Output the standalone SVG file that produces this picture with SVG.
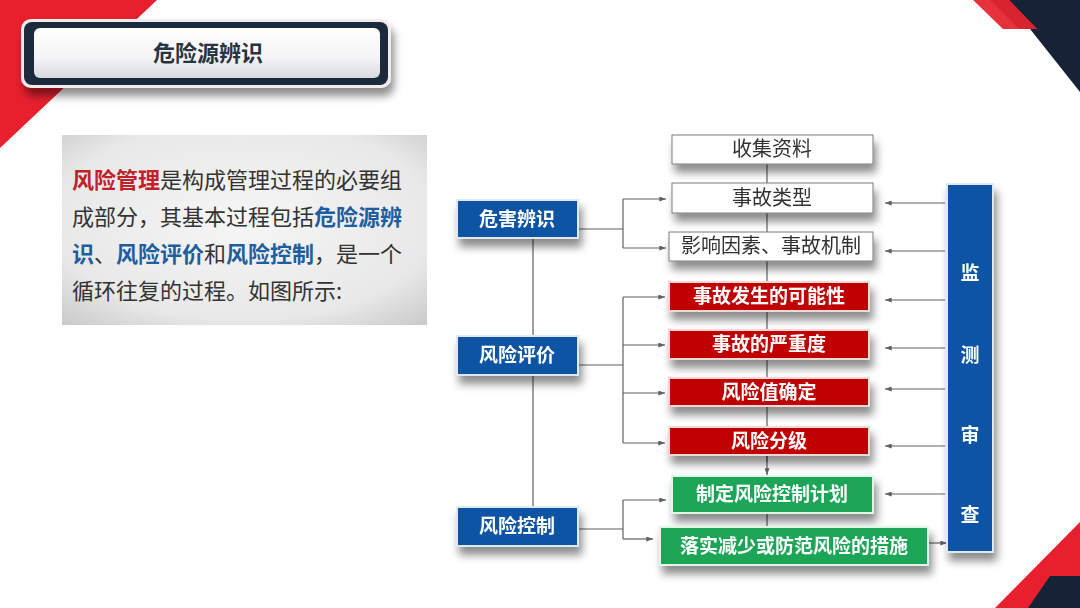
<svg xmlns="http://www.w3.org/2000/svg" width="1080" height="608" viewBox="0 0 1080 608">
<defs>
<style>
.t{font-family:"Noto Sans CJK SC","Liberation Serif",serif;}
.bx{font-family:"Noto Sans CJK SC",sans-serif;font-size:19px;text-anchor:middle;dominant-baseline:central;}
.wb{fill:#ffffff;stroke:#7a7a7a;stroke-width:1;}
.rb{fill:#c00000;stroke:#f3d6d6;stroke-width:2;}
.gb{fill:#1ea556;stroke:#e2f5e9;stroke-width:2;}
.bb{fill:#0b55a4;stroke:#dfe9f5;stroke-width:2;}
.wt{fill:#333333;font-size:20px;}
.ct{fill:#ffffff;font-weight:bold;}
.ln{stroke:#606060;stroke-width:1.2;fill:none;}
.ar{stroke:#606060;stroke-width:1.2;fill:none;marker-end:url(#ah);}
</style>
<marker id="ah" viewBox="0 0 8 6" refX="8" refY="3" markerWidth="7" markerHeight="5" markerUnits="userSpaceOnUse" orient="auto">
<path d="M0,0 L8,3 L0,6 Z" fill="#606060"/>
</marker>
<filter id="sh" x="-20%" y="-30%" width="150%" height="190%">
<feGaussianBlur in="SourceAlpha" stdDeviation="4"/>
<feOffset dx="3" dy="8" result="o"/>
<feFlood flood-color="#000" flood-opacity="0.45"/>
<feComposite in2="o" operator="in"/>
<feMerge><feMergeNode/><feMergeNode in="SourceGraphic"/></feMerge>
</filter>
<radialGradient id="pg" cx="50%" cy="45%" r="75%">
<stop offset="0" stop-color="#f6f6f6"/>
<stop offset="0.7" stop-color="#e8e8e8"/>
<stop offset="1" stop-color="#c8c8c8"/>
</radialGradient>
<linearGradient id="tg" x1="0" y1="0" x2="0" y2="1">
<stop offset="0" stop-color="#ffffff"/>
<stop offset="0.6" stop-color="#f4f4f6"/>
<stop offset="1" stop-color="#d8dadd"/>
</linearGradient>
</defs>

<rect width="1080" height="608" fill="#ffffff"/>

<!-- decorations -->
<polygon points="0,0 157,0 0,148" fill="#e8202e"/>
<polygon points="1007,0 1080,0 1080,92" fill="#162235"/>
<polygon points="973,0 1009,0 1037,29 1003,29" fill="#e7323c"/>
<polygon points="990,0 1009,0 1037,29 1019,29" fill="#d82430"/>
<polygon points="995,608 1080,522 1080,608" fill="#e8202e"/>
<polygon points="1028,608 1050,576 1080,576 1080,608" fill="#162235"/>

<!-- title -->
<g id="title">
<rect x="21" y="19" width="370" height="69" rx="10" fill="#f4ecec" filter="url(#sh)"/>
<rect x="24" y="22" width="364" height="63" rx="8" fill="#1b2a3c"/>
<rect x="34" y="28" width="346" height="50" rx="6" fill="url(#tg)"/>
<text class="t" x="208" y="51" font-size="22" font-weight="bold" fill="#2a3340" text-anchor="middle" dominant-baseline="central">危险源辨识</text>
</g>

<!-- text panel -->
<g id="panel">
<rect x="62" y="135" width="365" height="190" fill="url(#pg)"/>
<text class="t" font-size="22" fill="#333333">
<tspan x="72" y="188"><tspan fill="#c0222c" font-weight="bold">风险管理</tspan>是构成管理过程的必要组</tspan>
<tspan x="72" y="225">成部分，其基本过程包括<tspan fill="#1f5e9e" font-weight="bold">危险源辨</tspan></tspan>
<tspan x="72" y="262"><tspan fill="#1f5e9e" font-weight="bold">识</tspan>、<tspan fill="#1f5e9e" font-weight="bold">风险评价</tspan>和<tspan fill="#1f5e9e" font-weight="bold">风险控制</tspan>，是一个</tspan>
<tspan x="72" y="299">循环往复的过程。如图所示:</tspan>
</text>
</g>

<!-- connectors -->
<g id="connectors">
<line class="ln" x1="533" y1="238" x2="533" y2="507"/>
<polyline class="ln" points="767,164 767,462"/>
<line class="ar" x1="767" y1="455" x2="767" y2="475"/>
<line class="ln" x1="767" y1="513" x2="767" y2="527"/>
<!-- 危害辨识 -->
<line class="ln" x1="578" y1="229" x2="623" y2="229"/>
<line class="ln" x1="623" y1="199" x2="623" y2="248"/>
<line class="ar" x1="623" y1="199" x2="666" y2="199"/>
<line class="ar" x1="623" y1="248" x2="666" y2="248"/>
<!-- 风险评价 -->
<line class="ln" x1="578" y1="365" x2="623" y2="365"/>
<line class="ln" x1="623" y1="297" x2="623" y2="443"/>
<line class="ar" x1="623" y1="297" x2="665" y2="297"/>
<line class="ar" x1="623" y1="345" x2="665" y2="345"/>
<line class="ar" x1="623" y1="393" x2="665" y2="393"/>
<line class="ar" x1="623" y1="443" x2="665" y2="443"/>
<!-- 风险控制 -->
<line class="ln" x1="578" y1="529" x2="623" y2="529"/>
<line class="ln" x1="623" y1="500" x2="623" y2="539"/>
<line class="ar" x1="623" y1="500" x2="666" y2="500"/>
<line class="ar" x1="623" y1="539" x2="653" y2="539"/>
<!-- monitoring arrows -->
<line class="ar" x1="945" y1="203" x2="885" y2="203"/>
<line class="ar" x1="945" y1="251" x2="885" y2="251"/>
<line class="ar" x1="945" y1="300" x2="885" y2="300"/>
<line class="ar" x1="945" y1="348" x2="885" y2="348"/>
<line class="ar" x1="945" y1="389" x2="885" y2="389"/>
<line class="ar" x1="945" y1="446" x2="885" y2="446"/>
<line class="ar" x1="945" y1="494" x2="885" y2="494"/>
<line class="ar" x1="929" y1="543" x2="947" y2="543"/>
</g>

<!-- left blue nodes -->
<g id="n-hazard" filter="url(#sh)">
<rect class="bb" x="457" y="200" width="121" height="38"/>
<text class="bx ct" x="517" y="217" font-size="20">危害辨识</text>
</g>
<g id="n-assess" filter="url(#sh)">
<rect class="bb" x="457" y="336" width="121" height="39"/>
<text class="bx ct" x="517" y="353" font-size="20">风险评价</text>
</g>
<g id="n-control" filter="url(#sh)">
<rect class="bb" x="457" y="507" width="121" height="39"/>
<text class="bx ct" x="517" y="524" font-size="20">风险控制</text>
</g>

<!-- white nodes -->
<g id="n-collect" filter="url(#sh)">
<rect class="wb" x="672" y="135" width="201" height="29"/>
<text class="bx wt" x="772" y="147">收集资料</text>
</g>
<g id="n-type" filter="url(#sh)">
<rect class="wb" x="672" y="183" width="201" height="30"/>
<text class="bx wt" x="772" y="196">事故类型</text>
</g>
<g id="n-factor" filter="url(#sh)">
<rect class="wb" x="669" y="232" width="204" height="29"/>
<text class="bx wt" x="771" y="244">影响因素、事故机制</text>
</g>

<!-- red nodes -->
<g id="n-prob" filter="url(#sh)">
<rect class="rb" x="669" y="282" width="200" height="29"/>
<text class="bx ct" x="769" y="294">事故发生的可能性</text>
</g>
<g id="n-sev" filter="url(#sh)">
<rect class="rb" x="669" y="330" width="200" height="29"/>
<text class="bx ct" x="769" y="342">事故的严重度</text>
</g>
<g id="n-value" filter="url(#sh)">
<rect class="rb" x="669" y="378" width="200" height="28"/>
<text class="bx ct" x="769" y="390">风险值确定</text>
</g>
<g id="n-grade" filter="url(#sh)">
<rect class="rb" x="669" y="427" width="200" height="28"/>
<text class="bx ct" x="769" y="439">风险分级</text>
</g>

<!-- green nodes -->
<g id="n-plan" filter="url(#sh)">
<rect class="gb" x="672" y="476" width="201" height="37"/>
<text class="bx ct" x="772" y="492">制定风险控制计划</text>
</g>
<g id="n-measure" filter="url(#sh)">
<rect class="gb" x="660" y="527" width="268" height="38"/>
<text class="bx ct" x="794" y="544">落实减少或防范风险的措施</text>
</g>

<!-- monitor node -->
<g id="n-monitor" filter="url(#sh)">
<rect class="bb" x="947" y="184" width="46" height="368"/>
<text class="bx ct" x="970" y="271" font-size="21">监</text>
<text class="bx ct" x="970" y="353" font-size="21">测</text>
<text class="bx ct" x="970" y="433" font-size="21">审</text>
<text class="bx ct" x="970" y="513" font-size="21">查</text>
</g>
</svg>
